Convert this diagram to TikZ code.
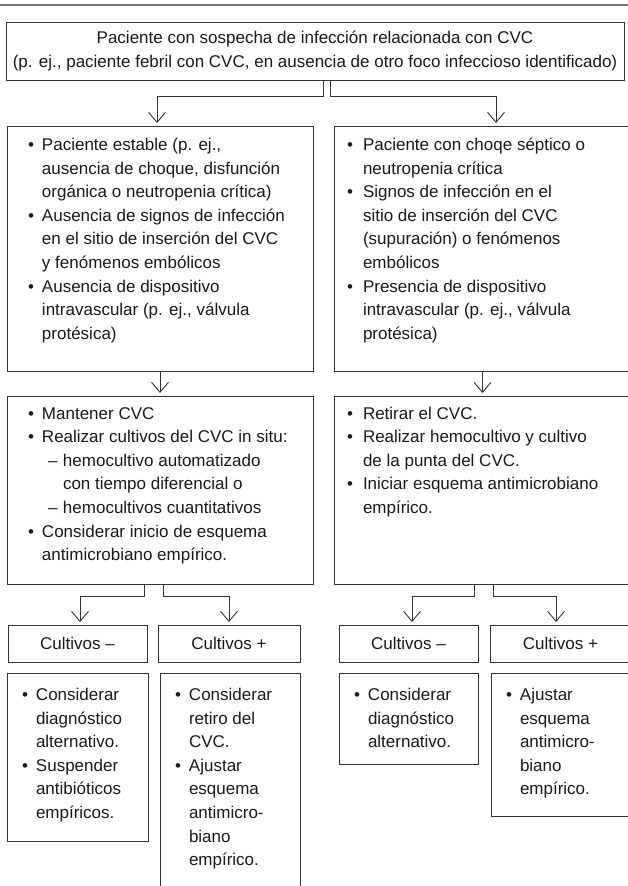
\documentclass[tikz,border=0pt]{standalone}
\usepackage{fontspec}
\setmainfont{Liberation Sans}
\usetikzlibrary{arrows.meta}

\newlength\bulx
\newlength\txtx
% bullet item and dash sub-item, fixed indents
\newcommand{\itm}{\par\noindent\hangindent=\txtx\hangafter=1\hspace*{\bulx}\makebox[\dimexpr\txtx-\bulx\relax][l]{\textbullet}\strut}
\newcommand{\sitm}{\par\noindent\hangindent=56pt\hangafter=1\hspace*{41pt}\makebox[15pt][l]{–}\strut}
% box content: width, height, top gap, text
\newcommand{\cell}[4]{\parbox[c][#2][t]{#1}{\raggedright\let\\\newline\vspace*{#3}#4}}

\begin{document}
\begin{tikzpicture}[x=1pt, y=-1pt,
    box/.style={draw=black!80, line width=1pt, inner sep=0pt, outer sep=0pt, anchor=north west,
                text=black!90, font=\fontsize{17}{23.6}\selectfont},
    wide/.style={execute at begin node={\setlength\bulx{21pt}\setlength\txtx{35pt}}},
    slim/.style={execute at begin node={\setlength\bulx{13pt}\setlength\txtx{29pt}}},
    small/.style={execute at begin node={\setlength\bulx{15pt}\setlength\txtx{29pt}}},
    arr/.style={draw=black!80, line width=0.9pt, -{Straight Barb[length=10pt,width=17pt]}, shorten >=3pt}]
	\useasboundingbox (0,0) rectangle (628,886);
	\clip (0,0) rectangle (628,886);
	\draw[line width=1.8pt, black!55] (0,5) -- (628,5);

	\node[box] (top) at (6,22) {\parbox[c][58pt][c]{618pt}{\centering
		Paciente con sospecha de infección relacionada con CVC\\
		(p. ej., paciente febril con CVC, en ausencia de otro foco infeccioso identificado)}};

	\node[box, wide] (est) at (7,126) {\cell{306pt}{245pt}{8pt}{%
		\itm Paciente estable (p. ej.,\\ ausencia de choque, disfunción\\ orgánica o neutropenia crítica)
		\itm Ausencia de signos de infección\\ en el sitio de inserción del CVC\\ y fenómenos embólicos
		\itm Ausencia de dispositivo\\ intravascular (p. ej., válvula\\ protésica)}};
	\node[box, slim] (sep) at (334,126) {\cell{297pt}{245pt}{8pt}{%
		\itm Paciente con choqe séptico o\\ neutropenia crítica
		\itm Signos de infección en el\\ sitio de inserción del CVC\\ (supuración) o fenómenos\\ embólicos
		\itm Presencia de dispositivo\\ intravascular (p. ej., válvula\\ protésica)}};

	\node[box, wide] (mant) at (7,396) {\cell{306pt}{188pt}{6.5pt}{%
		\itm Mantener CVC
		\itm Realizar cultivos del CVC in situ:
		\sitm hemocultivo automatizado\\ con tiempo diferencial o
		\sitm hemocultivos cuantitativos
		\itm Considerar inicio de esquema\\ antimicrobiano empírico.}};
	\node[box, slim] (ret) at (334,396) {\cell{297pt}{188pt}{6.5pt}{%
		\itm Retirar el CVC.
		\itm Realizar hemocultivo y cultivo\\ de la punta del CVC.
		\itm Iniciar esquema antimicrobiano\\ empírico.}};

	\node[box] (negL) at (8,625) {\parbox[c][37pt][c]{139pt}{\centering Cultivos –}};
	\node[box] (posL) at (158,625) {\parbox[c][37pt][c]{142pt}{\centering Cultivos +}};
	\node[box] (negR) at (339,625) {\parbox[c][37pt][c]{139pt}{\centering Cultivos –}};
	\node[box] (posR) at (490,625) {\parbox[c][37pt][c]{141pt}{\centering Cultivos +}};

	\node[box, small] (altL) at (7,673) {\cell{141pt}{168pt}{11pt}{%
		\itm Considerar\\ diagnóstico\\ alternativo.
		\itm Suspender\\ antibióticos\\ empíricos.}};
	\node[box, small] (retL) at (160,673) {\cell{140pt}{240pt}{11pt}{%
		\itm Considerar\\ retiro del\\ CVC.
		\itm Ajustar\\ esquema\\ antimicro-\\ biano\\ empírico.}};
	\node[box, small] (altR) at (339,673) {\cell{139pt}{91pt}{11pt}{%
		\itm Considerar\\ diagnóstico\\ alternativo.}};
	\node[box, small] (ajR) at (491,673) {\cell{140pt}{143pt}{11pt}{%
		\itm Ajustar\\ esquema\\ antimicro-\\ biano\\ empírico.}};

	\draw[arr] ([xshift=8pt]top.south) -- ++(0,16) -| ([xshift=-3pt]est.north);
	\draw[arr] ([xshift=15pt]top.south) -- ++(0,16) -| ([xshift=13.5pt]sep.north);
	\draw[arr] (est.south) -- (mant.north);
	\draw[arr] (sep.south) -- (ret.north);
	\draw[arr] ([xshift=-16pt]mant.south) -- ++(0,12) -| ([xshift=2.5pt]negL.north);
	\draw[arr] ([xshift=3pt]mant.south) -- ++(0,12) -| (posL.north);
	\draw[arr] ([xshift=-8.5pt]ret.south) -- ++(0,12) -| ([xshift=3.5pt]negR.north);
	\draw[arr] ([xshift=10.5pt]ret.south) -- ++(0,12) -| ([xshift=-4.5pt]posR.north);
\end{tikzpicture}
\end{document}
